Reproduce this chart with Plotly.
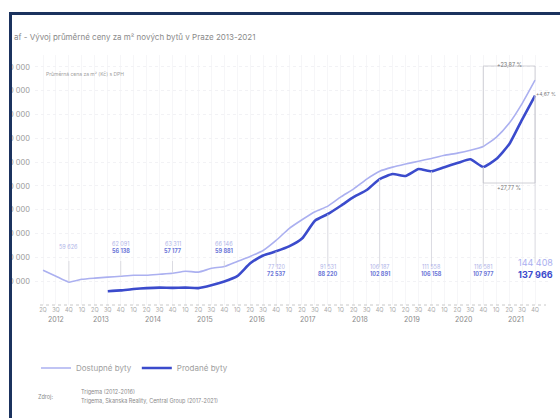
import plotly.graph_objects as go

# ---------------- data ----------------
quarter_labels = ["2Q", "3Q", "4Q"] + ["1Q", "2Q", "3Q", "4Q"] * 9
years = ["2012", "2013", "2014", "2015", "2016", "2017", "2018", "2019", "2020", "2021"]
year_quarter_counts = [3, 4, 4, 4, 4, 4, 4, 4, 4, 4]

nabizene = [64600, 62100, 59626, 60800, 61300, 61700, 62091, 62500, 62500, 62900,
            63311, 64200, 63800, 65400, 66146, 68300, 70400, 72900, 77120, 82100,
            85800, 89200, 91531, 95400, 98800, 102900, 106187, 107900, 109200, 110400,
            111558, 112900, 113800, 115000, 116581, 120400, 126300, 134600, 144408]

prodane = [None, None, None, None, None,
           55800, 56138, 56700, 57100, 57300, 57177, 57300, 57100, 58300, 59881,
           62100, 67500, 70800, 72537, 74600, 77900, 85400, 88220, 91700, 95400,
           98300, 102891, 105000, 104200, 107100, 106158, 107900, 109600, 111200, 107977,
           111300, 117500, 127900, 137966]

ytick_vals = [60000, 70000, 80000, 90000, 100000, 110000, 120000, 130000, 140000, 150000]
ytick_text = [f"{v:,}".replace(",", " ") for v in ytick_vals]

label_idx = [2, 6, 10, 14, 18, 22, 26, 30, 34, 38]   # year-end quarters

series_names = ["Dostupné byty", "Prodané byty"]
title_text = "af - Vývoj průměrné ceny za m² nových bytů v Praze 2013-2021"
subtitle_text = "Průměrná cena za m² (Kč) s DPH"
source_lines = ["Trigema (2012-2016)", "Trigema, Skanska Reality, Central Group (2017-2021)"]

# ---------------- styling / layout ----------------
W, H = 560, 418
ML, MR, MT, MB = 35, 12, 55, 113
PW, PH = W - ML - MR, H - MT - MB
Y0, Y1 = 50000, 155000
X0, X1 = -0.62, 39.0

C_NAB = "#abb0f0"
C_PROD = "#3b4bcc"
C_GREY = "#9a9a9a"
C_LINE = "#d4d4dc"
NAVY = "#1b325e"
FONT = "Inter"


def xp(px):  # pixel -> paper x
    return (px - ML) / PW


def yp(py):  # pixel -> paper y
    return (MT + PH - py) / PH


def yv(py):  # pixel -> data y
    return Y1 - (py - MT) / PH * (Y1 - Y0)


def fmt(v):
    return f"{v:,}".replace(",", " ")


x = list(range(len(quarter_labels)))

fig = go.Figure()
fig.add_trace(go.Scatter(x=x, y=nabizene, mode="lines", name=series_names[0],
                         line=dict(color=C_NAB, width=1.6, shape="spline", smoothing=0.5)))
fig.add_trace(go.Scatter(x=x, y=prodane, mode="lines", name=series_names[1],
                         line=dict(color=C_PROD, width=2.6, shape="spline", smoothing=0.5)))

shapes = []
annotations = []

# dotted x axis line
shapes.append(dict(type="line", xref="paper", yref="paper", x0=xp(40), x1=xp(546), y0=0, y1=0,
                   line=dict(color="#c8c8c8", width=1, dash="dot")))

# year labels
start = 0
for yr, n in zip(years, year_quarter_counts):
    annotations.append(dict(x=start + (n - 1) / 2, y=yp(326), xref="x", yref="paper", text=yr,
                            showarrow=False, font=dict(size=7, color="#8a8a8a", family=FONT)))
    start += n

# value labels at year ends
for i in label_idx:
    nv, pv = nabizene[i], prodane[i]
    if i == 38:
        annotations.append(dict(x=i, y=yp(270), xref="x", yref="paper", text=fmt(nv), showarrow=False,
                                font=dict(size=9, color=C_NAB, family=FONT)))
        annotations.append(dict(x=i, y=yp(282), xref="x", yref="paper", text="<b>" + fmt(pv) + "</b>",
                                showarrow=False, font=dict(size=9, color=C_PROD, family=FONT)))
        shapes.append(dict(type="line", xref="x", yref="y", x0=i, x1=i, y0=pv, y1=yv(263),
                           line=dict(color=C_LINE, width=0.8)))
        continue
    early = i <= 14
    ty, by = (249, 256) if early else (272, 279)
    if pv is None:
        annotations.append(dict(x=i, y=yp(252), xref="x", yref="paper", text=fmt(nv), showarrow=False,
                                font=dict(size=5.5, color="#b0b4e8", family=FONT)))
    else:
        annotations.append(dict(x=i, y=yp(ty), xref="x", yref="paper", text=fmt(nv), showarrow=False,
                                font=dict(size=5.5, color="#b0b4e8", family=FONT)))
        annotations.append(dict(x=i, y=yp(by), xref="x", yref="paper", text="<b>" + fmt(pv) + "</b>",
                                showarrow=False, font=dict(size=5.5, color="#6b76d8", family=FONT)))
    if early:
        shapes.append(dict(type="line", xref="x", yref="y", x0=i, x1=i, y0=yv(261), y1=nv,
                           line=dict(color=C_LINE, width=0.8)))
    else:
        shapes.append(dict(type="line", xref="x", yref="y", x0=i, x1=i, y0=pv, y1=yv(267),
                           line=dict(color=C_LINE, width=0.8)))

# growth brackets 2020 Q4 -> 2021 Q4
a, b = 34, 38
top_v, bot_v = yv(66), yv(183)
for x0_, x1_, y0_, y1_ in [(a, a, nabizene[a], top_v), (a, b, top_v, top_v), (b, b, top_v, nabizene[b]),
                           (a, a, prodane[a], bot_v), (a, b, bot_v, bot_v), (b, b, bot_v, prodane[b])]:
    shapes.append(dict(type="line", xref="x", yref="y", x0=x0_, x1=x1_, y0=y0_, y1=y1_,
                       line=dict(color="#c4c4cc", width=0.8)))
g_nab = (nabizene[b] / nabizene[a] - 1) * 100
g_prod = (prodane[b] / prodane[a] - 1) * 100
gap = (nabizene[b] / prodane[b] - 1) * 100
annotations.append(dict(x=(a + b) / 2, y=yp(60), xref="x", yref="paper",
                        text=f"+{g_nab:.2f} %".replace(".", ","), showarrow=False,
                        font=dict(size=5.5, color="#777", family=FONT)))
annotations.append(dict(x=(a + b) / 2, y=yp(188), xref="x", yref="paper",
                        text=f"+{g_prod:.2f} %".replace(".", ","), showarrow=False,
                        font=dict(size=5.5, color="#777", family=FONT)))
annotations.append(dict(x=xp(558), y=yp(89), xref="paper", yref="paper", xanchor="right",
                        text=f"+{gap:.2f} %".replace(".", ","), showarrow=False,
                        font=dict(size=5, color="#777", family=FONT)))

# title, subtitle, source
annotations.append(dict(x=xp(12), y=yp(30), xref="paper", yref="paper", xanchor="left", text=title_text,
                        showarrow=False, font=dict(size=8, color="#8a8a8a", family=FONT)))
annotations.append(dict(x=xp(44), y=yp(69), xref="paper", yref="paper", xanchor="left", text=subtitle_text,
                        showarrow=False, font=dict(size=5, color="#a0a0a0", family=FONT)))
annotations.append(dict(x=xp(36), y=yp(402), xref="paper", yref="paper", xanchor="left", text="Zdroj:",
                        showarrow=False, font=dict(size=5.5, color="#8a8a8a", family=FONT)))
annotations.append(dict(x=xp(79), y=yp(397), xref="paper", yref="paper", xanchor="left", text=source_lines[0],
                        showarrow=False, font=dict(size=5.5, color="#8a8a8a", family=FONT)))
annotations.append(dict(x=xp(79), y=yp(407), xref="paper", yref="paper", xanchor="left", text=source_lines[1],
                        showarrow=False, font=dict(size=5.5, color="#8a8a8a", family=FONT)))

# frame: white strip on the left edge and navy border lines
shapes.append(dict(type="rect", xref="paper", yref="paper", x0=xp(-2), x1=xp(9.5), y0=yp(H + 2), y1=yp(-2),
                   fillcolor="white", line=dict(width=0), layer="above"))
shapes.append(dict(type="line", xref="paper", yref="paper", x0=xp(10.5), x1=xp(10.5), y0=yp(H + 2), y1=yp(12),
                   line=dict(color=NAVY, width=3), layer="above"))
shapes.append(dict(type="line", xref="paper", yref="paper", x0=xp(9), x1=xp(W + 2), y0=yp(13.5), y1=yp(13.5),
                   line=dict(color=NAVY, width=3), layer="above"))

fig.update_layout(
    width=W, height=H,
    margin=dict(l=ML, r=MR, t=MT, b=MB, autoexpand=False),
    paper_bgcolor="white", plot_bgcolor="white",
    font=dict(family=FONT, color=C_GREY),
    showlegend=True,
    legend=dict(orientation="h", x=xp(36), y=yp(368), xanchor="left", yanchor="middle",
                font=dict(size=8, color="#a0a0a0", family=FONT), itemwidth=30,
                bgcolor="rgba(0,0,0,0)"),
    shapes=shapes,
    annotations=annotations,
)
fig.update_xaxes(range=[X0, X1], tickmode="array", tickvals=x, ticktext=quarter_labels,
                 tickfont=dict(size=5.5, color="#a8a8a8"), showgrid=True, gridcolor="#f6f6f8",
                 zeroline=False, showline=False, ticks="", fixedrange=True, automargin=False)
fig.update_yaxes(range=[Y0, Y1], tickmode="array", tickvals=ytick_vals, ticktext=ytick_text,
                 tickfont=dict(size=7.5, color="#9a9a9a"), showgrid=True, gridcolor="#f2f2f5",
                 griddash="dot", zeroline=False, showline=False, ticks="", ticklabelstandoff=4,
                 fixedrange=True, automargin=False)

fig.write_html("out.html", config={"displayModeBar": False},
               post_script="document.body.style.margin='0';")
